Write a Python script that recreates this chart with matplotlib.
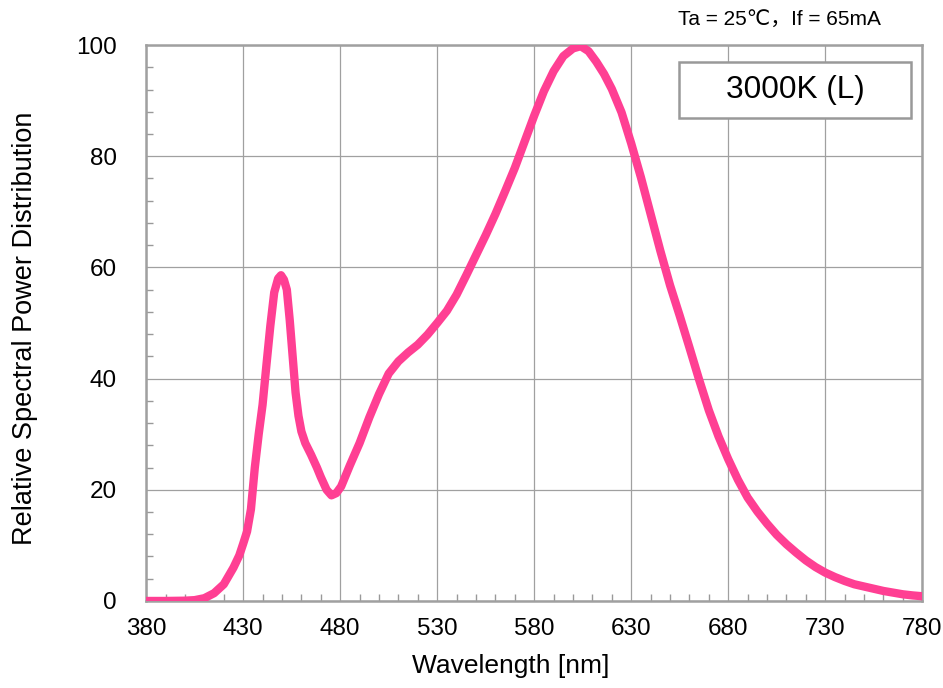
import matplotlib
matplotlib.use('Agg')
import matplotlib.pyplot as plt
from matplotlib.patches import Rectangle
from matplotlib.ticker import MultipleLocator

plt.rcParams['font.family'] = ['Liberation Sans', 'DejaVu Sans', 'Noto Sans CJK JP']

# spectrum (wavelength in nm, relative power in %)
wavelength = [380, 390, 400, 405, 410, 415, 420, 425, 428, 430, 432, 434, 436, 438,
              440, 442, 444, 446, 448, 449.5, 451, 452.5, 454, 455.5, 457, 458.5,
              460, 462, 465, 468, 470, 473, 475.5, 478, 480.5, 485, 490, 495, 500,
              505, 510, 515, 520, 525, 530, 535, 540, 545, 550, 555, 560, 565, 570,
              575, 580, 585, 590, 595, 600, 604, 608, 612, 616, 620, 625, 630, 635,
              640, 645, 650, 655, 660, 665, 670, 675, 680, 685, 690, 695, 700, 705,
              710, 715, 720, 725, 730, 735, 740, 745, 750, 755, 760, 765, 770, 775, 780]
power = [0, 0, 0.05, 0.15, 0.5, 1.4, 3.0, 6.0, 8.2, 10.3, 12.5, 16.5, 24.0, 30.0,
         35.3, 42.5, 49.5, 55.5, 58.0, 58.6, 57.8, 56.0, 50.5, 44.0, 37.5, 33.3,
         30.5, 28.4, 26.3, 24.0, 22.3, 20.0, 19.0, 19.4, 20.6, 24.4, 28.4, 33.0, 37.2,
         40.9, 43.1, 44.7, 46.1, 47.9, 50.0, 52.2, 55.1, 58.6, 62.2, 65.8, 69.6, 73.7, 77.9,
         82.6, 87.3, 91.7, 95.3, 98.0, 99.4, 99.8, 98.9, 97.0, 94.8, 92.1, 87.9, 82.3, 76.2,
         69.6, 63.0, 56.8, 51.3, 45.6, 39.8, 34.3, 29.6, 25.5, 21.8, 18.6, 16.1, 13.9, 11.9,
         10.2, 8.7, 7.3, 6.1, 5.1, 4.3, 3.6, 3.0, 2.6, 2.2, 1.8, 1.5, 1.2, 1.0, 0.85]

x_ticks = [380, 430, 480, 530, 580, 630, 680, 730, 780]
y_ticks = [0, 20, 40, 60, 80, 100]

fig = plt.figure(figsize=(9.43, 6.88), dpi=100)
ax = fig.add_axes([0.155, 0.1265, 0.823, 0.808])

ax.plot(wavelength, power, color='#ff3f93', lw=6, solid_capstyle='round',
        solid_joinstyle='round', zorder=3)

ax.set_xlim(380, 780)
ax.set_ylim(0, 100)
ax.set_xticks(x_ticks)
ax.set_yticks(y_ticks)
ax.xaxis.set_minor_locator(MultipleLocator(10))
ax.yaxis.set_minor_locator(MultipleLocator(4))
ax.tick_params(which='both', direction='in', colors='#999999', labelcolor='black',
               labelsize=17.5, top=False, right=False)
ax.tick_params(which='major', length=0)
ax.tick_params(axis='x', which='major', pad=12)
ax.tick_params(axis='y', which='major', pad=21)
ax.tick_params(which='minor', length=5, width=1)
ax.grid(True, which='major', color='#a0a0a0', lw=0.9)

for side in ax.spines.values():
    side.set_color('#a0a0a0')
    side.set_linewidth(1.8)

ax.set_xlabel('Wavelength [nm]', fontsize=19)
ax.set_ylabel('Relative Spectral Power Distribution', fontsize=19.5)
ax.xaxis.set_label_coords(0.47, -0.095)
ax.yaxis.set_label_coords(-0.14, 0.49)

# label box in the upper right corner
ax.add_patch(Rectangle((0.686, 0.869), 0.3, 0.1, transform=ax.transAxes,
                       facecolor='white', edgecolor='#999999', lw=1.8, zorder=4))
ax.text(0.836, 0.919, '3000K (L)', transform=ax.transAxes, fontsize=22.7,
        ha='center', va='center', zorder=5)

fig.text(0.827, 0.970, 'Ta = 25℃，If = 65mA', fontsize=15, ha='center', va='center')

fig.savefig('out.png', dpi=100)
